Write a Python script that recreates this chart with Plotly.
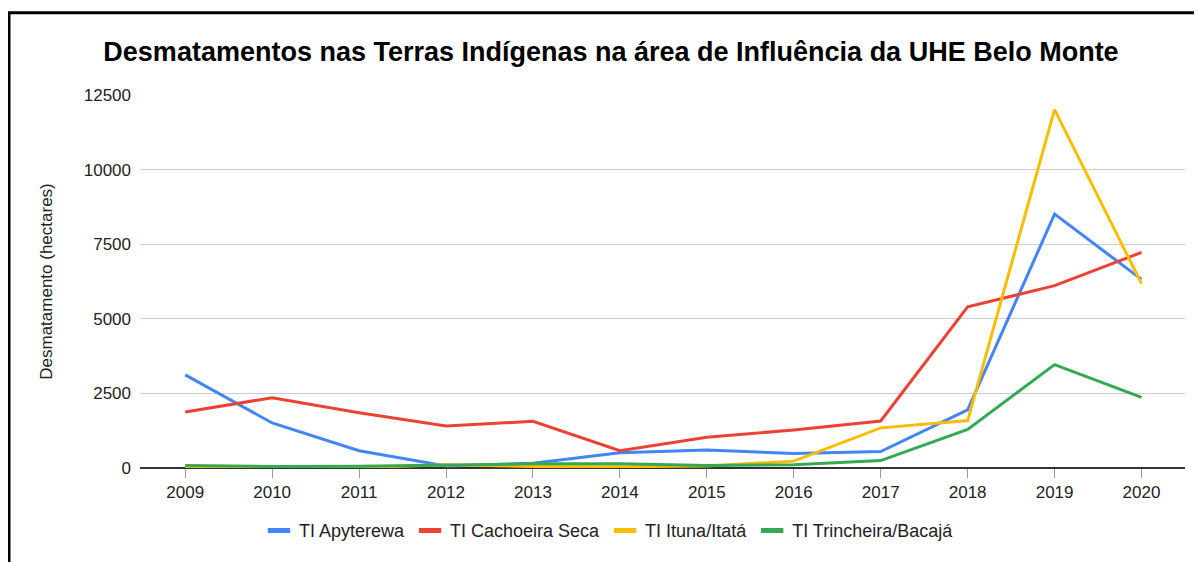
import plotly.graph_objects as go

years = [2009, 2010, 2011, 2012, 2013, 2014, 2015, 2016, 2017, 2018, 2019, 2020]
apyterewa = [3120, 1510, 580, 70, 160, 510, 600, 490, 550, 1950, 8510, 6320]
cachoeira_seca = [1880, 2355, 1850, 1410, 1565, 580, 1030, 1275, 1575, 5400, 6110, 7225]
ituna_itata = [20, 10, 10, 110, 50, 40, 70, 230, 1345, 1590, 12010, 6180]
trincheira_bacaja = [80, 50, 55, 95, 140, 140, 80, 110, 250, 1290, 3465, 2370]

series = [
    ("TI Apyterewa", apyterewa, "#4285F4"),
    ("TI Cachoeira Seca", cachoeira_seca, "#EA4335"),
    ("TI Ituna/Itatá", ituna_itata, "#FBBC04"),
    ("TI Trincheira/Bacajá", trincheira_bacaja, "#34A853"),
]
y_ticks = [0, 2500, 5000, 7500, 10000, 12500]

fig = go.Figure()
for name, vals, color in series:
    fig.add_trace(go.Scatter(x=years, y=vals, mode="lines", name=name,
                             line=dict(color=color, width=3), showlegend=False))
# legend swatches (short thick bars)
for name, vals, color in series:
    fig.add_trace(go.Scatter(x=[None], y=[None], mode="markers", name=name,
                             marker=dict(symbol="line-ew", size=19,
                                         line=dict(color=color, width=5)),
                             showlegend=True))

# page body adds an 8px offset, so figure coords = reference coords - 8
W, H = 1194, 554
L, R, T, B = 132, 17, 87, 94
pw, ph = W - L - R, H - T - B
FONT = "Liberation Sans, Arial, sans-serif"

fig.update_layout(
    width=W, height=H,
    margin=dict(l=L, r=R, t=T, b=B),
    paper_bgcolor="white", plot_bgcolor="white",
    font=dict(family=FONT, size=17, color="#222222"),
    title=dict(text="<b>Desmatamentos nas Terras Indígenas na área de Influência da UHE Belo Monte</b>",
               x=603 / W, xanchor="center", y=1 - 44 / H, yanchor="middle",
               font=dict(family=FONT, size=27, color="#000000")),
    xaxis=dict(range=[2008.48, 2020.5], tickvals=years, ticktext=[str(y) for y in years],
               showgrid=False, ticks="outside", ticklen=9, tickcolor="#999999",
               tickfont=dict(size=17, color="#222222"), zeroline=False,
               showline=False),
    yaxis=dict(range=[0, 12500], tickvals=y_ticks, ticktext=[str(v) for v in y_ticks],
               showgrid=True, gridcolor="#cccccc",
               gridwidth=1, zeroline=True, zerolinecolor="#333333", zerolinewidth=2,
               ticks="", ticklabelstandoff=8, tickfont=dict(size=17, color="#222222"),
               title=dict(text="Desmatamento (hectares)", font=dict(size=17, color="#222222"),
                          standoff=26)),
    legend=dict(orientation="h", x=(601 - L) / pw, xanchor="center",
                y=-(522.7 - (H - B)) / ph, yanchor="middle",
                font=dict(size=18, color="#222222"),
                itemwidth=30, bgcolor="rgba(0,0,0,0)"),
    showlegend=True,
)

fig.add_shape(type="rect", xref="paper", yref="paper",
              x0=(1 - L) / pw, x1=1.1, y0=-0.4, y1=1 + (T - 4.8) / ph,
              line=dict(color="black", width=3), fillcolor="rgba(0,0,0,0)", layer="above")

fig.write_html("out.html")
